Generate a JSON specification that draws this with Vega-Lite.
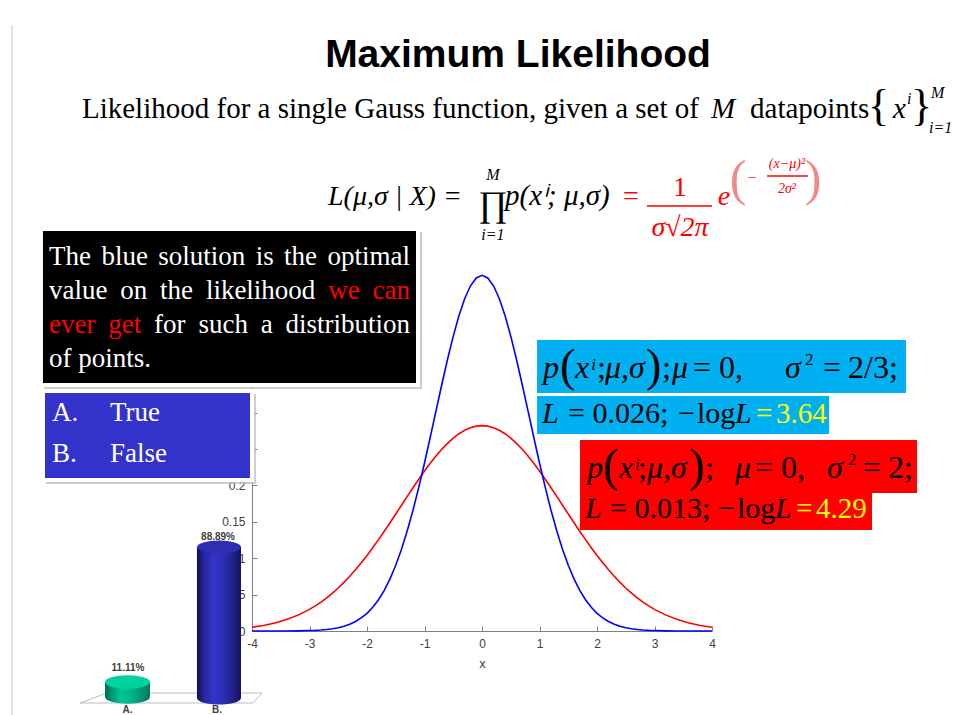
{
  "$schema": "https://vega.github.io/schema/vega-lite/v6.json",
  "width": 460,
  "height": 364,
  "autosize": {"type": "none"},
  "padding": {"left": 252, "top": 267, "right": 242, "bottom": 84},
  "background": "white",
  "config": {"view": {"stroke": null}, "text": {"font": "Liberation Serif"}},
  "encoding": {
    "x": {"field": "x", "type": "quantitative", "scale": {"domain": [-4, 4], "nice": false, "zero": false},
      "axis": {"values": [-4, -3, -2, -1, 0, 1, 2, 3, 4], "title": "x", "grid": false, "tickSize": -5, "labelPadding": 12,
        "labelExpr": "replace(datum.label, '−', '-')",
        "domainColor": "#808080", "tickColor": "#808080", "labelColor": "#404040", "labelFont": "Liberation Sans", "labelFontSize": 12,
        "titleFont": "Liberation Sans", "titleFontSize": 13, "titleFontWeight": "normal", "titleColor": "#404040", "titlePadding": 8,
        "labelFlush": false, "labelOverlap": false}},
    "y": {"field": "y", "type": "quantitative", "scale": {"domain": [0, 0.5], "nice": false, "zero": false},
      "axis": {"values": [0, 0.05, 0.1, 0.15, 0.2, 0.25, 0.3], "format": ".2~f", "labelExpr": "datum.value > 0.21 ? '' : datum.label", "title": null, "grid": false,
        "tickSize": -5, "labelPadding": 12, "domainColor": "#808080", "tickColor": "#808080", "labelColor": "#404040",
        "labelFont": "Liberation Sans", "labelFontSize": 12, "labelFlush": false, "labelOverlap": false}}
  },
  "layer": [
    {"data": {"values": [{"x": -8.174, "y": 0.8324, "y2": -0.1154}]},
     "mark": {"type": "rule", "color": "#c4c8cc", "strokeWidth": 1, "clip": false},
     "encoding": {"y2": {"field": "y2"}}},
    {"data": {"values": [
      {"x": -4, "y": 0.0052, "s": "red"}, {"x": -3.8, "y": 0.0076, "s": "red"}, {"x": -3.6, "y": 0.011, "s": "red"}, {"x": -3.4, "y": 0.0157, "s": "red"}, {"x": -3.2, "y": 0.0218, "s": "red"},
      {"x": -3, "y": 0.0297, "s": "red"}, {"x": -2.9, "y": 0.0345, "s": "red"}, {"x": -2.8, "y": 0.0397, "s": "red"}, {"x": -2.7, "y": 0.0456, "s": "red"}, {"x": -2.6, "y": 0.0521, "s": "red"},
      {"x": -2.5, "y": 0.0591, "s": "red"}, {"x": -2.4, "y": 0.0668, "s": "red"}, {"x": -2.3, "y": 0.0752, "s": "red"}, {"x": -2.2, "y": 0.0841, "s": "red"}, {"x": -2.1, "y": 0.0937, "s": "red"},
      {"x": -2, "y": 0.1038, "s": "red"}, {"x": -1.9, "y": 0.1144, "s": "red"}, {"x": -1.8, "y": 0.1255, "s": "red"}, {"x": -1.7, "y": 0.137, "s": "red"}, {"x": -1.6, "y": 0.1487, "s": "red"},
      {"x": -1.5, "y": 0.1607, "s": "red"}, {"x": -1.4, "y": 0.1728, "s": "red"}, {"x": -1.3, "y": 0.1849, "s": "red"}, {"x": -1.2, "y": 0.1968, "s": "red"}, {"x": -1.1, "y": 0.2085, "s": "red"},
      {"x": -1, "y": 0.2197, "s": "red"}, {"x": -0.9, "y": 0.2304, "s": "red"}, {"x": -0.8, "y": 0.2404, "s": "red"}, {"x": -0.7, "y": 0.2496, "s": "red"}, {"x": -0.6, "y": 0.2578, "s": "red"},
      {"x": -0.5, "y": 0.265, "s": "red"}, {"x": -0.4, "y": 0.271, "s": "red"}, {"x": -0.3, "y": 0.2758, "s": "red"}, {"x": -0.2, "y": 0.2793, "s": "red"}, {"x": -0.1, "y": 0.2814, "s": "red"},
      {"x": 0, "y": 0.2821, "s": "red"},
      {"x": 0.1, "y": 0.2814, "s": "red"}, {"x": 0.2, "y": 0.2793, "s": "red"}, {"x": 0.3, "y": 0.2758, "s": "red"}, {"x": 0.4, "y": 0.271, "s": "red"}, {"x": 0.5, "y": 0.265, "s": "red"},
      {"x": 0.6, "y": 0.2578, "s": "red"}, {"x": 0.7, "y": 0.2496, "s": "red"}, {"x": 0.8, "y": 0.2404, "s": "red"}, {"x": 0.9, "y": 0.2304, "s": "red"}, {"x": 1, "y": 0.2197, "s": "red"},
      {"x": 1.1, "y": 0.2085, "s": "red"}, {"x": 1.2, "y": 0.1968, "s": "red"}, {"x": 1.3, "y": 0.1849, "s": "red"}, {"x": 1.4, "y": 0.1728, "s": "red"}, {"x": 1.5, "y": 0.1607, "s": "red"},
      {"x": 1.6, "y": 0.1487, "s": "red"}, {"x": 1.7, "y": 0.137, "s": "red"}, {"x": 1.8, "y": 0.1255, "s": "red"}, {"x": 1.9, "y": 0.1144, "s": "red"}, {"x": 2, "y": 0.1038, "s": "red"},
      {"x": 2.1, "y": 0.0937, "s": "red"}, {"x": 2.2, "y": 0.0841, "s": "red"}, {"x": 2.3, "y": 0.0752, "s": "red"}, {"x": 2.4, "y": 0.0668, "s": "red"}, {"x": 2.5, "y": 0.0591, "s": "red"},
      {"x": 2.6, "y": 0.0521, "s": "red"}, {"x": 2.7, "y": 0.0456, "s": "red"}, {"x": 2.8, "y": 0.0397, "s": "red"}, {"x": 2.9, "y": 0.0345, "s": "red"}, {"x": 3, "y": 0.0297, "s": "red"},
      {"x": 3.2, "y": 0.0218, "s": "red"}, {"x": 3.4, "y": 0.0157, "s": "red"}, {"x": 3.6, "y": 0.011, "s": "red"}, {"x": 3.8, "y": 0.0076, "s": "red"}, {"x": 4, "y": 0.0052, "s": "red"},
      {"x": -4, "y": 0, "s": "blue"}, {"x": -3.8, "y": 0, "s": "blue"}, {"x": -3.6, "y": 0, "s": "blue"}, {"x": -3.4, "y": 0.0001, "s": "blue"}, {"x": -3.2, "y": 0.0002, "s": "blue"},
      {"x": -3, "y": 0.0006, "s": "blue"}, {"x": -2.9, "y": 0.0009, "s": "blue"}, {"x": -2.8, "y": 0.0014, "s": "blue"}, {"x": -2.7, "y": 0.0021, "s": "blue"}, {"x": -2.6, "y": 0.0031, "s": "blue"},
      {"x": -2.5, "y": 0.0045, "s": "blue"}, {"x": -2.4, "y": 0.0065, "s": "blue"}, {"x": -2.3, "y": 0.0092, "s": "blue"}, {"x": -2.2, "y": 0.013, "s": "blue"}, {"x": -2.1, "y": 0.0179, "s": "blue"},
      {"x": -2, "y": 0.0243, "s": "blue"}, {"x": -1.9, "y": 0.0326, "s": "blue"}, {"x": -1.8, "y": 0.043, "s": "blue"}, {"x": -1.7, "y": 0.0559, "s": "blue"}, {"x": -1.6, "y": 0.0716, "s": "blue"},
      {"x": -1.5, "y": 0.0904, "s": "blue"}, {"x": -1.4, "y": 0.1123, "s": "blue"}, {"x": -1.3, "y": 0.1376, "s": "blue"}, {"x": -1.2, "y": 0.1659, "s": "blue"}, {"x": -1.1, "y": 0.1972, "s": "blue"},
      {"x": -1, "y": 0.2308, "s": "blue"}, {"x": -0.9, "y": 0.2662, "s": "blue"}, {"x": -0.8, "y": 0.3023, "s": "blue"}, {"x": -0.7, "y": 0.3383, "s": "blue"}, {"x": -0.6, "y": 0.373, "s": "blue"},
      {"x": -0.5, "y": 0.4051, "s": "blue"}, {"x": -0.4, "y": 0.4334, "s": "blue"}, {"x": -0.3, "y": 0.4567, "s": "blue"}, {"x": -0.2, "y": 0.4742, "s": "blue"}, {"x": -0.1, "y": 0.4849, "s": "blue"},
      {"x": 0, "y": 0.4886, "s": "blue"},
      {"x": 0.1, "y": 0.4849, "s": "blue"}, {"x": 0.2, "y": 0.4742, "s": "blue"}, {"x": 0.3, "y": 0.4567, "s": "blue"}, {"x": 0.4, "y": 0.4334, "s": "blue"}, {"x": 0.5, "y": 0.4051, "s": "blue"},
      {"x": 0.6, "y": 0.373, "s": "blue"}, {"x": 0.7, "y": 0.3383, "s": "blue"}, {"x": 0.8, "y": 0.3023, "s": "blue"}, {"x": 0.9, "y": 0.2662, "s": "blue"}, {"x": 1, "y": 0.2308, "s": "blue"},
      {"x": 1.1, "y": 0.1972, "s": "blue"}, {"x": 1.2, "y": 0.1659, "s": "blue"}, {"x": 1.3, "y": 0.1376, "s": "blue"}, {"x": 1.4, "y": 0.1123, "s": "blue"}, {"x": 1.5, "y": 0.0904, "s": "blue"},
      {"x": 1.6, "y": 0.0716, "s": "blue"}, {"x": 1.7, "y": 0.0559, "s": "blue"}, {"x": 1.8, "y": 0.043, "s": "blue"}, {"x": 1.9, "y": 0.0326, "s": "blue"}, {"x": 2, "y": 0.0243, "s": "blue"},
      {"x": 2.1, "y": 0.0179, "s": "blue"}, {"x": 2.2, "y": 0.013, "s": "blue"}, {"x": 2.3, "y": 0.0092, "s": "blue"}, {"x": 2.4, "y": 0.0065, "s": "blue"}, {"x": 2.5, "y": 0.0045, "s": "blue"},
      {"x": 2.6, "y": 0.0031, "s": "blue"}, {"x": 2.7, "y": 0.0021, "s": "blue"}, {"x": 2.8, "y": 0.0014, "s": "blue"}, {"x": 2.9, "y": 0.0009, "s": "blue"}, {"x": 3, "y": 0.0006, "s": "blue"},
      {"x": 3.2, "y": 0.0002, "s": "blue"}, {"x": 3.4, "y": 0.0001, "s": "blue"}, {"x": 3.6, "y": 0, "s": "blue"}, {"x": 3.8, "y": 0, "s": "blue"}, {"x": 4, "y": 0, "s": "blue"}
     ]},
     "mark": {"type": "line", "strokeWidth": 1.6, "clip": false},
     "encoding": {"color": {"field": "s", "type": "nominal", "scale": {"domain": ["red", "blue"], "range": ["#ff0000", "#0000ff"]}, "legend": null}}},
    {"data": {"values": [
      {"x": -6.991, "y": -0.0989, "o": 1}, {"x": -6.522, "y": -0.0852, "o": 2}, {"x": -3.826, "y": -0.0852, "o": 3}, {"x": -3.983, "y": -0.0989, "o": 4}, {"x": -6.991, "y": -0.0989, "o": 5}]},
     "mark": {"type": "line", "color": "#bdbdbd", "strokeWidth": 1, "clip": false},
     "encoding": {"order": {"field": "o", "type": "quantitative"}}},
    {"data": {"values": [{"x": -6.165, "y": -0.0907}]},
     "mark": {"type": "point", "shape": "M-1,0A1,0.3,0,1,1,1,0A1,0.3,0,1,1,-1,0Z", "size": 2025, "filled": true, "opacity": 1, "strokeWidth": 0, "clip": false,
       "color": {"gradient": "linear", "x1": 0, "x2": 1, "y1": 0, "y2": 0, "stops": [{"offset": 0, "color": "#006e52"}, {"offset": 0.35, "color": "#00c896"}, {"offset": 0.6, "color": "#00b488"}, {"offset": 1, "color": "#007a5a"}]}}},
    {"data": {"values": [{"x": -6.557, "x2": -5.774, "y": -0.0701, "y2": -0.0907}]},
     "mark": {"type": "rect", "clip": false,
       "color": {"gradient": "linear", "x1": 0, "x2": 1, "y1": 0, "y2": 0, "stops": [{"offset": 0, "color": "#006e52"}, {"offset": 0.35, "color": "#00c896"}, {"offset": 0.6, "color": "#00b488"}, {"offset": 1, "color": "#007a5a"}]}},
     "encoding": {"x2": {"field": "x2"}, "y2": {"field": "y2"}}},
    {"data": {"values": [{"x": -6.165, "y": -0.0701}]},
     "mark": {"type": "point", "shape": "M-1,0A1,0.3,0,1,1,1,0A1,0.3,0,1,1,-1,0Z", "size": 2025, "filled": true, "opacity": 1, "strokeWidth": 0, "clip": false, "color": "#00d29e"}},
    {"data": {"values": [{"x": -4.574, "y": -0.092}]},
     "mark": {"type": "point", "shape": "M-1,0A1,0.3,0,1,1,1,0A1,0.3,0,1,1,-1,0Z", "size": 1936, "filled": true, "opacity": 1, "strokeWidth": 0, "clip": false,
       "color": {"gradient": "linear", "x1": 0, "x2": 1, "y1": 0, "y2": 0, "stops": [{"offset": 0, "color": "#10104a"}, {"offset": 0.15, "color": "#25259c"}, {"offset": 0.38, "color": "#3535cc"}, {"offset": 0.65, "color": "#2b2bae"}, {"offset": 1, "color": "#15155e"}]}}},
    {"data": {"values": [{"x": -4.957, "x2": -4.191, "y": 0.1154, "y2": -0.092}]},
     "mark": {"type": "rect", "clip": false,
       "color": {"gradient": "linear", "x1": 0, "x2": 1, "y1": 0, "y2": 0, "stops": [{"offset": 0, "color": "#10104a"}, {"offset": 0.15, "color": "#25259c"}, {"offset": 0.38, "color": "#3535cc"}, {"offset": 0.65, "color": "#2b2bae"}, {"offset": 1, "color": "#15155e"}]}},
     "encoding": {"x2": {"field": "x2"}, "y2": {"field": "y2"}}},
    {"data": {"values": [{"x": -4.574, "y": 0.1154}]},
     "mark": {"type": "point", "shape": "M-1,0A1,0.3,0,1,1,1,0A1,0.3,0,1,1,-1,0Z", "size": 1936, "filled": true, "opacity": 1, "strokeWidth": 0, "clip": false, "color": "#2e2eb4"}},
    {"data": {"values": [
      {"x": -6.157, "y": -0.0549, "t": "11.11%"}, {"x": -4.591, "y": 0.125, "t": "88.89%"}, {"x": -6.165, "y": -0.1126, "t": "A."}, {"x": -4.609, "y": -0.1126, "t": "B."}]},
     "mark": {"type": "text", "font": "Liberation Sans", "fontSize": 10, "fontWeight": "bold", "color": "#404040", "align": "center", "baseline": "alphabetic", "clip": false},
     "encoding": {"text": {"field": "t"}}},
    {"data": {"values": [{"x": -7.617, "x2": -1.043, "y": 0.5481, "y2": 0.3324}, {"x": -7.583, "x2": -3.93, "y": 0.3255, "y2": 0.2019}]},
     "mark": {"type": "rect", "color": "#b8b8b8", "opacity": 0.7, "clip": false},
     "encoding": {"x2": {"field": "x2"}, "y2": {"field": "y2"}}},
    {"data": {"values": [{"x": -7.67, "x2": -1.113, "y": 0.5522, "y2": 0.3379}]},
     "mark": {"type": "rect", "fill": "#000000", "stroke": "#ffffff", "strokeWidth": 4, "clip": false},
     "encoding": {"x2": {"field": "x2"}, "y2": {"field": "y2"}}},
    {"data": {"values": [{"x": -7.635, "x2": -4.0, "y": 0.3297, "y2": 0.2074}]},
     "mark": {"type": "rect", "fill": "#3333cc", "stroke": "#ffffff", "strokeWidth": 4, "clip": false},
     "encoding": {"x2": {"field": "x2"}, "y2": {"field": "y2"}}},
    {"data": {"values": [{"x": 0.957, "x2": 7.374, "y": 0.3997, "y2": 0.3269}, {"x": 0.957, "x2": 6.035, "y": 0.3228, "y2": 0.2706}]},
     "mark": {"type": "rect", "color": "#00b0f0", "opacity": 1, "clip": false},
     "encoding": {"x2": {"field": "x2"}, "y2": {"field": "y2"}}},
    {"data": {"values": [{"x": 1.704, "x2": 7.565, "y": 0.2624, "y2": 0.1896}, {"x": 1.704, "x2": 6.783, "y": 0.1896, "y2": 0.1387}]},
     "mark": {"type": "rect", "color": "#ff0000", "opacity": 1, "clip": false},
     "encoding": {"x2": {"field": "x2"}, "y2": {"field": "y2"}}},
    {"data": {"values": [{"x": 0.626, "y": 0.7747, "t": "Maximum Likelihood"}]},
     "mark": {"type": "text", "font": "Liberation Sans", "fontSize": 39, "fontWeight": "bold", "color": "#000000", "align": "center", "baseline": "alphabetic", "clip": false},
     "encoding": {"text": {"field": "t"}}},
    {"data": {"values": [{"x": -6.957, "y": 0.7047, "t": "Likelihood for a single Gauss function, given a set of"}, {"x": 4.661, "y": 0.7047, "t": "datapoints"}]},
     "mark": {"type": "text", "fontSize": 29, "color": "#000000", "align": "left", "baseline": "alphabetic", "clip": false},
     "encoding": {"text": {"field": "t"}}},
    {"data": {"values": [{"x": 3.983, "y": 0.7047, "t": "M"}, {"x": 7.148, "y": 0.7047, "t": "x"}]},
     "mark": {"type": "text", "fontSize": 29, "fontStyle": "italic", "color": "#000000", "align": "left", "baseline": "alphabetic", "clip": false},
     "encoding": {"text": {"field": "t"}}},
    {"data": {"values": [{"x": 6.713, "y": 0.7019, "t": "{"}, {"x": 7.461, "y": 0.7019, "t": "}"}]},
     "mark": {"type": "text", "fontSize": 44, "color": "#000000", "align": "left", "baseline": "alphabetic", "clip": false},
     "encoding": {"text": {"field": "t"}}},
    {"data": {"values": [{"x": 7.391, "y": 0.7239, "t": "i"}, {"x": 7.809, "y": 0.7321, "t": "M"}, {"x": 7.774, "y": 0.6841, "t": "i=1"}]},
     "mark": {"type": "text", "fontSize": 16, "fontStyle": "italic", "color": "#000000", "align": "left", "baseline": "alphabetic", "clip": false},
     "encoding": {"text": {"field": "t"}}},
    {"data": {"values": [{"x": -2.678, "y": 0.5852, "t": "L(μ,σ | X) ="}]},
     "mark": {"type": "text", "fontSize": 28, "fontStyle": "italic", "color": "#000000", "align": "left", "baseline": "alphabetic", "clip": false},
     "encoding": {"text": {"field": "t"}}},
    {"data": {"values": [{"x": 0.4, "y": 0.5852, "t": "p(xⁱ; μ,σ)"}]},
     "mark": {"type": "text", "fontSize": 29, "fontStyle": "italic", "color": "#000000", "align": "left", "baseline": "alphabetic", "clip": false},
     "encoding": {"text": {"field": "t"}}},
    {"data": {"values": [{"x": 0.191, "y": 0.5701, "t": "∏"}]},
     "mark": {"type": "text", "fontSize": 36, "color": "#000000", "align": "center", "baseline": "alphabetic", "clip": false},
     "encoding": {"text": {"field": "t"}}},
    {"data": {"values": [{"x": 0.191, "y": 0.6195, "t": "M"}, {"x": 0.191, "y": 0.5371, "t": "i=1"}]},
     "mark": {"type": "text", "fontSize": 16, "fontStyle": "italic", "color": "#000000", "align": "center", "baseline": "alphabetic", "clip": false},
     "encoding": {"text": {"field": "t"}}},
    {"data": {"values": [{"x": 2.591, "y": 0.5852, "t": "="}, {"x": 3.443, "y": 0.5975, "t": "1"}]},
     "mark": {"type": "text", "fontSize": 28, "color": "#ff0000", "align": "center", "baseline": "alphabetic", "clip": false},
     "encoding": {"text": {"field": "t"}}},
    {"data": {"values": [{"x": 3.443, "y": 0.5426, "t": "σ√2π"}, {"x": 4.209, "y": 0.5852, "t": "e"}]},
     "mark": {"type": "text", "fontSize": 28, "fontStyle": "italic", "color": "#ff0000", "align": "center", "baseline": "alphabetic", "clip": false},
     "encoding": {"text": {"field": "t"}}},
    {"data": {"values": [{"x": 2.87, "x2": 4.0, "y": 0.5838}, {"x": 4.957, "x2": 5.67, "y": 0.625}]},
     "mark": {"type": "rule", "color": "#ff0000", "strokeWidth": 1.5, "clip": false},
     "encoding": {"x2": {"field": "x2"}}},
    {"data": {"values": [{"x": 5.304, "y": 0.636, "t": "(x−μ)²"}, {"x": 5.304, "y": 0.6016, "t": "2σ²"}, {"x": 4.696, "y": 0.6168, "t": "−"}]},
     "mark": {"type": "text", "fontSize": 14, "fontStyle": "italic", "color": "#ff0000", "align": "center", "baseline": "alphabetic", "clip": false},
     "encoding": {"text": {"field": "t"}}},
    {"data": {"values": [{"x": 4.452, "y": 0.5989, "t": "("}, {"x": 5.757, "y": 0.5989, "t": ")"}]},
     "mark": {"type": "text", "fontSize": 50, "color": "#f08a8a", "align": "center", "baseline": "alphabetic", "clip": false},
     "encoding": {"text": {"field": "t"}}},
    {"data": {"values": [
      {"x": -7.53, "y": 0.5027, "t": "The"}, {"x": -6.619, "y": 0.5027, "t": "blue"}, {"x": -5.63, "y": 0.5027, "t": "solution"}, {"x": -3.936, "y": 0.5027, "t": "is"}, {"x": -3.442, "y": 0.5027, "t": "the"},
      {"x": -7.53, "y": 0.456, "t": "value"}, {"x": -6.29, "y": 0.456, "t": "on"}, {"x": -5.598, "y": 0.456, "t": "the"}, {"x": -4.802, "y": 0.456, "t": "likelihood"},
      {"x": -5.703, "y": 0.4093, "t": "for"}, {"x": -4.932, "y": 0.4093, "t": "such"}, {"x": -3.849, "y": 0.4093, "t": "a"},
      {"x": -7.53, "y": 0.3626, "t": "of points."},
      {"x": -7.478, "y": 0.2885, "t": "A."}, {"x": -6.47, "y": 0.2885, "t": "True"}, {"x": -7.478, "y": 0.2321, "t": "B."}, {"x": -6.47, "y": 0.2321, "t": "False"}]},
     "mark": {"type": "text", "fontSize": 27, "color": "#ffffff", "align": "left", "baseline": "alphabetic", "clip": false},
     "encoding": {"text": {"field": "t"}}},
    {"data": {"values": [{"x": -1.252, "y": 0.5027, "t": "optimal"}, {"x": -1.252, "y": 0.4093, "t": "distribution"}]},
     "mark": {"type": "text", "fontSize": 27, "color": "#ffffff", "align": "right", "baseline": "alphabetic", "clip": false},
     "encoding": {"text": {"field": "t"}}},
    {"data": {"values": [{"x": -2.675, "y": 0.456, "t": "we"}, {"x": -7.53, "y": 0.4093, "t": "ever"}, {"x": -6.499, "y": 0.4093, "t": "get"}]},
     "mark": {"type": "text", "fontSize": 27, "color": "#ff0000", "align": "left", "baseline": "alphabetic", "clip": false},
     "encoding": {"text": {"field": "t"}}},
    {"data": {"values": [{"x": -1.252, "y": 0.456, "t": "can"}]},
     "mark": {"type": "text", "fontSize": 27, "color": "#ff0000", "align": "right", "baseline": "alphabetic", "clip": false},
     "encoding": {"text": {"field": "t"}}},
    {"data": {"values": [
      {"x": 1.061, "y": 0.3475, "t": "p"}, {"x": 1.617, "y": 0.3475, "t": "x"}, {"x": 2.139, "y": 0.3475, "t": "μ,σ"}, {"x": 3.304, "y": 0.3475, "t": "μ"}, {"x": 5.27, "y": 0.3475, "t": "σ"},
      {"x": 1.826, "y": 0.2102, "t": "p"}, {"x": 2.383, "y": 0.2102, "t": "x"}, {"x": 2.87, "y": 0.2102, "t": "μ,σ"}, {"x": 4.4, "y": 0.2102, "t": "μ"}, {"x": 6.0, "y": 0.2102, "t": "σ"}]},
     "mark": {"type": "text", "fontSize": 32, "fontStyle": "italic", "color": "#000000", "align": "left", "baseline": "alphabetic", "clip": false},
     "encoding": {"text": {"field": "t"}}},
    {"data": {"values": [
      {"x": 2.0, "y": 0.3475, "t": ";"}, {"x": 3.13, "y": 0.3475, "t": ";"}, {"x": 3.67, "y": 0.3475, "t": "= 0,"}, {"x": 5.93, "y": 0.3475, "t": "="}, {"x": 6.365, "y": 0.3475, "t": "2/3;"},
      {"x": 2.713, "y": 0.2102, "t": ";"}, {"x": 3.878, "y": 0.2102, "t": ";"}, {"x": 4.748, "y": 0.2102, "t": "= 0,"}, {"x": 6.626, "y": 0.2102, "t": "="}, {"x": 7.061, "y": 0.2102, "t": "2;"}]},
     "mark": {"type": "text", "fontSize": 32, "color": "#000000", "align": "left", "baseline": "alphabetic", "clip": false},
     "encoding": {"text": {"field": "t"}}},
    {"data": {"values": [
      {"x": 1.357, "y": 0.3434, "t": "("}, {"x": 2.852, "y": 0.3434, "t": ")"}, {"x": 2.104, "y": 0.206, "t": "("}, {"x": 3.6, "y": 0.206, "t": ")"}]},
     "mark": {"type": "text", "fontSize": 46, "color": "#000000", "align": "left", "baseline": "alphabetic", "clip": false},
     "encoding": {"text": {"field": "t"}}},
    {"data": {"values": [{"x": 1.9, "y": 0.3585, "t": "i"}, {"x": 2.66, "y": 0.2212, "t": "i"}]},
     "mark": {"type": "text", "fontSize": 17, "fontStyle": "italic", "color": "#000000", "align": "left", "baseline": "alphabetic", "clip": false},
     "encoding": {"text": {"field": "t"}}},
    {"data": {"values": [{"x": 5.617, "y": 0.3654, "t": "2"}, {"x": 6.365, "y": 0.228, "t": "2"}]},
     "mark": {"type": "text", "fontSize": 17, "color": "#000000", "align": "left", "baseline": "alphabetic", "clip": false},
     "encoding": {"text": {"field": "t"}}},
    {"data": {"values": [
      {"x": 1.043, "y": 0.2857, "t": "L"}, {"x": 4.4, "y": 0.2857, "t": "L"}, {"x": 1.791, "y": 0.1552, "t": "L"}, {"x": 5.096, "y": 0.1552, "t": "L"}]},
     "mark": {"type": "text", "fontSize": 30, "fontStyle": "italic", "color": "#000000", "align": "left", "baseline": "alphabetic", "clip": false},
     "encoding": {"text": {"field": "t"}}},
    {"data": {"values": [
      {"x": 1.496, "y": 0.2857, "t": "= 0.026;"}, {"x": 3.409, "y": 0.2857, "t": "−"}, {"x": 3.739, "y": 0.2857, "t": "log"},
      {"x": 2.226, "y": 0.1552, "t": "= 0.013;"}, {"x": 4.104, "y": 0.1552, "t": "−"}, {"x": 4.435, "y": 0.1552, "t": "log"}]},
     "mark": {"type": "text", "fontSize": 30, "color": "#000000", "align": "left", "baseline": "alphabetic", "clip": false},
     "encoding": {"text": {"field": "t"}}},
    {"data": {"values": [
      {"x": 4.765, "y": 0.2857, "t": "="}, {"x": 5.113, "y": 0.2857, "t": "3.64"}, {"x": 5.461, "y": 0.1552, "t": "="}, {"x": 5.809, "y": 0.1552, "t": "4.29"}]},
     "mark": {"type": "text", "fontSize": 29, "color": "#ffff00", "align": "left", "baseline": "alphabetic", "clip": false},
     "encoding": {"text": {"field": "t"}}}
  ]
}
